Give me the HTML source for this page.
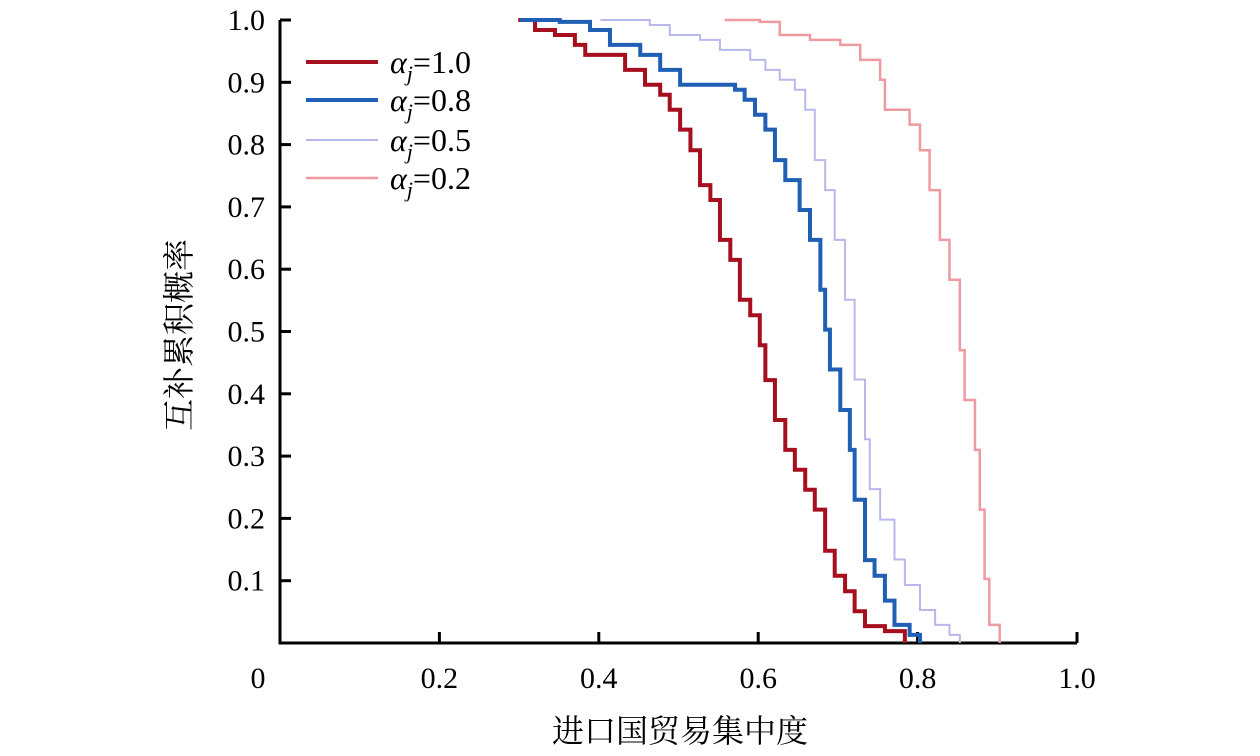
<!DOCTYPE html>
<html><head><meta charset="utf-8"><style>
body{margin:0;background:#fff}
svg text{font-family:"Liberation Serif","Noto Serif CJK SC",serif;fill:#000}
</style></head><body>
<svg width="1260" height="751" viewBox="0 0 1260 751" xmlns="http://www.w3.org/2000/svg">
<g id="axes"></g>
<g id="series"></g>
<g id="legend"></g>
<text transform="translate(190,335) rotate(-90)" text-anchor="middle" font-size="32">互补累积概率</text>
<text x="680" y="742" text-anchor="middle" font-size="32">进口国贸易集中度</text>
</svg>
<script>
const xTicks=[0,0.2,0.4,0.6,0.8,1.0];
const xTickLabels=["0","0.2","0.4","0.6","0.8","1.0"];
const yTicks=[0.1,0.2,0.3,0.4,0.5,0.6,0.7,0.8,0.9,1.0];
const yTickLabels=["0.1","0.2","0.3","0.4","0.5","0.6","0.7","0.8","0.9","1.0"];
const seriesNames=["1.0","0.8","0.5","0.2"];
const seriesColors=["#a50f1e","#1f5fb4","#b8b8ec","#ef9aa0"];
const seriesWidths=[4,4,2,2.5];
const s1x=[0.299,0.320,0.320,0.345,0.370,0.383,0.414,0.433,0.458,0.477,0.489,0.502,0.515,0.527,0.540,0.552,0.565,0.577,0.590,0.602,0.609,0.621,0.634,0.646,0.659,0.671,0.684,0.696,0.709,0.721,0.734,0.759,0.784,0.784];
const s1y=[1.0,0.997,0.984,0.976,0.960,0.944,0.944,0.920,0.896,0.880,0.856,0.824,0.791,0.735,0.711,0.647,0.615,0.551,0.526,0.478,0.422,0.358,0.310,0.278,0.246,0.214,0.148,0.108,0.083,0.051,0.027,0.019,0.010,0.0];
const s2x=[0.301,0.351,0.389,0.414,0.452,0.477,0.502,0.527,0.571,0.583,0.596,0.609,0.621,0.634,0.652,0.665,0.678,0.684,0.690,0.703,0.715,0.721,0.734,0.746,0.759,0.771,0.790,0.803];
const s2y=[1.0,0.997,0.984,0.960,0.944,0.920,0.896,0.896,0.888,0.872,0.848,0.824,0.775,0.743,0.695,0.647,0.567,0.503,0.439,0.374,0.310,0.230,0.133,0.108,0.068,0.029,0.013,0.0];
const s3x=[0.402,0.464,0.489,0.527,0.552,0.590,0.609,0.627,0.646,0.659,0.671,0.684,0.696,0.709,0.721,0.734,0.740,0.753,0.771,0.784,0.803,0.822,0.840,0.853];
const s3y=[1.0,0.992,0.976,0.968,0.952,0.936,0.920,0.904,0.888,0.856,0.775,0.727,0.647,0.551,0.423,0.327,0.247,0.198,0.134,0.093,0.053,0.029,0.013,0.0];
const s4x=[0.558,0.602,0.627,0.665,0.703,0.728,0.753,0.759,0.790,0.803,0.815,0.828,0.840,0.853,0.859,0.872,0.878,0.884,0.890,0.903,0.903];
const s4y=[1.0,0.997,0.976,0.968,0.960,0.936,0.904,0.856,0.832,0.791,0.727,0.647,0.583,0.470,0.390,0.310,0.214,0.103,0.029,0.005,0.0];
const SX=[s1x,s2x,s3x,s4x], SY=[s1y,s2y,s3y,s4y];
const X0=280,X1=1077,Y0=643,Y1=20;
const xs=v=>X0+v*(X1-X0), ys=v=>Y0-v*(Y0-Y1);
const NS="http://www.w3.org/2000/svg";
function mk(t,a,p){const e=document.createElementNS(NS,t);for(const k in a)e.setAttribute(k,a[k]);p.appendChild(e);return e;}
const ax=document.getElementById('axes');
let l=mk('path',{d:`M${X0},${Y1}V${Y0}H${X1}`,fill:'none',stroke:'#000','stroke-width':3},ax);


xTicks.forEach((v,i)=>{
 if(v>0){const t=mk('line',{x1:xs(v),x2:xs(v),y1:Y0,y2:Y0-11,stroke:'#000','stroke-width':3},ax);
 
 }
 const tx=mk('text',{x:v===0?xs(v)-22:xs(v),y:688,'text-anchor':'middle','font-size':30},ax);
 tx.textContent=xTickLabels[i];
 
 
});
yTicks.forEach((v,i)=>{
 const t=mk('line',{x1:X0,x2:X0+11,y1:ys(v),y2:ys(v),stroke:'#000','stroke-width':3},ax);
 
 
 const tx=mk('text',{x:265,y:ys(v)+10,'text-anchor':'end','font-size':30},ax);
 tx.textContent=yTickLabels[i];
 
 
});
const sg=document.getElementById('series');
SX.forEach((xa,k)=>{
 let d='';xa.forEach((x,i)=>{const px=xs(x),py=ys(SY[k][i]);
  if(i===0)d+=`M${px},${py}`;else d+=`H${px}V${py}`;});
 const p=mk('path',{d,fill:'none',stroke:seriesColors[k],'stroke-width':seriesWidths[k]},sg);
 
 
});
const lg=document.getElementById('legend');
const ly=[62,100,140,178];
seriesNames.forEach((n,k)=>{
 const ln=mk('line',{x1:306,x2:378,y1:ly[k],y2:ly[k],stroke:seriesColors[k],'stroke-width':seriesWidths[k]},lg);
 
 
 const t=mk('text',{x:390,y:ly[k]+11,'font-size':32},lg);
 t.innerHTML=`<tspan font-style="italic">α</tspan><tspan font-style="italic" font-size="22" dy="8">j</tspan><tspan dy="-8">=${n}</tspan>`;
 
 
});
</script>
</body></html>
